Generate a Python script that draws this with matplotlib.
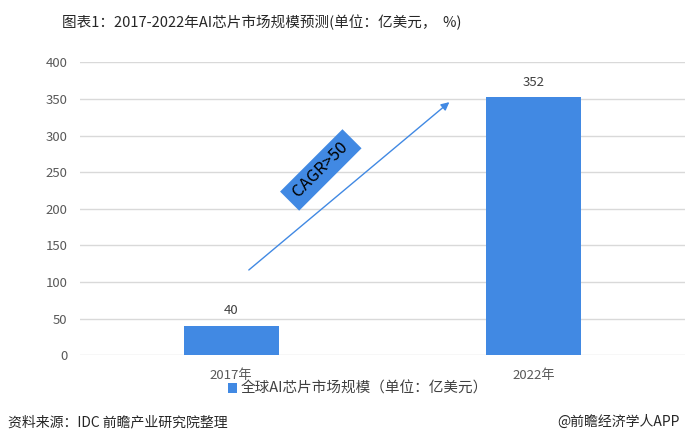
import matplotlib.pyplot as plt

plt.rcParams['font.family'] = ['Noto Sans CJK SC', 'DejaVu Sans']

# data
years = ['2017年', '2022年']
market_size = [40, 352]
yticks = [0, 50, 100, 150, 200, 250, 300, 350, 400]

bar_color = '#4189E3'
text_color = '#404040'

fig = plt.figure(figsize=(6.86, 4.46), dpi=100)
ax = fig.add_axes([0.1166, 0.2034, 0.882, 0.657])

x = list(range(len(years)))
bars = ax.bar(x, market_size, width=0.314, color=bar_color, zorder=3,
              label='全球AI芯片市场规模（单位：亿美元）')

for xi, v in zip(x, market_size):
    ax.text(xi, v + 12, str(v), ha='center', va='bottom', fontsize=9.5, color=text_color)

ax.set_xlim(-0.5, 1.5)
ax.set_ylim(0, 400)
ax.set_yticks(yticks)
ax.set_xticks(x)
ax.set_xticklabels(years)
ax.tick_params(axis='both', length=0, labelsize=9.5, labelcolor='#595959')
ax.tick_params(axis='y', pad=9)
ax.tick_params(axis='x', pad=10)
ax.grid(axis='y', color='#d9d9d9', linewidth=1, zorder=0)
for s in ax.spines.values():
    s.set_visible(False)

# growth arrow
ax.annotate('', xy=(0.728, 348), xytext=(0.051, 114),
            arrowprops=dict(arrowstyle='-|>', color=bar_color, lw=1, mutation_scale=12))
ax.text(0.296, 253, ' CAGR>50 ', rotation=45, rotation_mode='anchor', ha='center', va='center',
        fontsize=12, color='black',
        bbox=dict(boxstyle='square,pad=0.3', facecolor=bar_color, edgecolor='none'), zorder=4)

# legend
leg = fig.legend(handles=[bars], loc='center', bbox_to_anchor=(0.522, 1 - 389 / 446),
                 frameon=False, fontsize=10.5, handlelength=0.6, handleheight=0.6,
                 handletextpad=0.3, borderpad=0)
for t in leg.get_texts():
    t.set_color(text_color)

fig.text(262 / 686, 1 - 22 / 446, '图表1：2017-2022年AI芯片市场规模预测(单位：亿美元，  %)',
         ha='center', va='center', fontsize=10.5, color='#262626')
fig.text(8 / 686, 1 - 422 / 446, '资料来源：IDC 前瞻产业研究院整理', ha='left', va='center',
         fontsize=10, color='#262626')
fig.text(680 / 686, 1 - 422 / 446, '@前瞻经济学人APP', ha='right', va='center',
         fontsize=10, color='#262626')

fig.savefig('out.png', dpi=100)
